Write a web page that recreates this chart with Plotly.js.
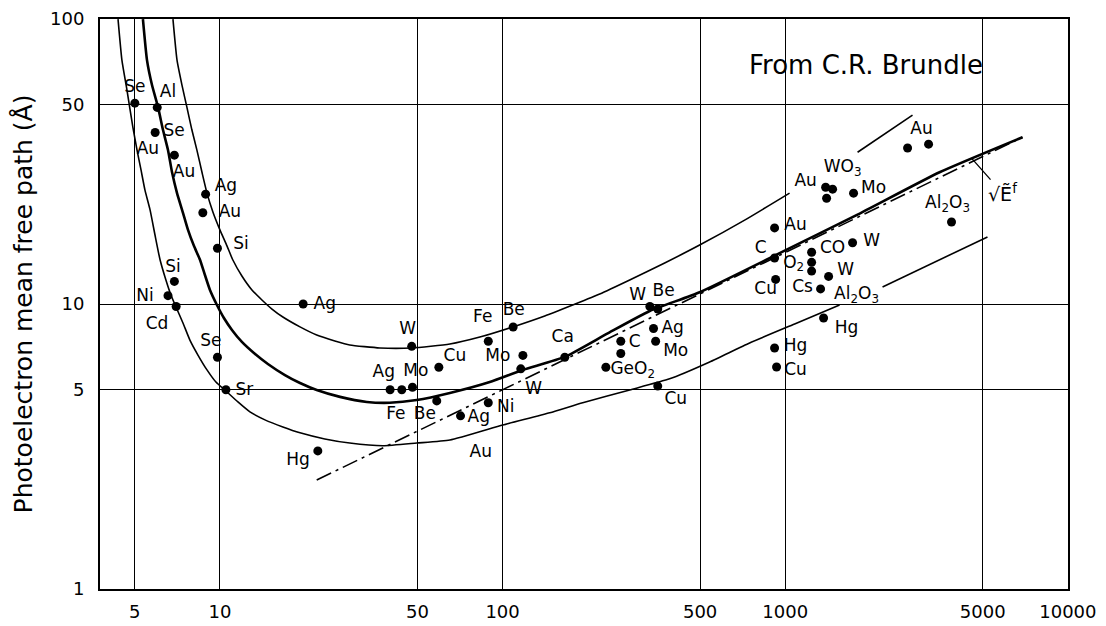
<!DOCTYPE html>
<html>
<head>
<meta charset="utf-8">
<script src="https://cdn.plot.ly/plotly-3.0.1.min.js"></script>
<style>html,body{margin:0;padding:0;background:#fff;}#chart{width:1106px;height:626px;}</style>
</head>
<body>
<div id="chart"></div>
<script>
// Axis ticks
const xTicks = [5, 10, 50, 100, 500, 1000, 5000, 10000];
const yTicks = [1, 5, 10, 50, 100];

// Universal curves (energy eV, mean free path Å)
const upperE = [6.82,7.05,7.34,7.64,7.96,8.29,8.64,9.0,9.45,10.0,10.59,11.1,11.96,12.98,14.08,15.28,16.7,19.2,22.0,25.5,28.8,36.8,47.7,65.1,83.1,108.7,141,177,220.7,281.7,374.6,498,718.6,1036,null,1803,2821];
const upperL = [100,71.8,58.7,49.1,40.8,34.7,29.0,24.5,21.0,18.2,16.0,14.3,12.54,11.2,10.33,9.6,9.0,8.31,7.78,7.42,7.18,7.01,7.01,7.24,7.66,8.31,9.08,9.92,10.84,12.14,13.93,16.1,19.7,24.5,null,34.1,46.0];

const middleE = [5.34,5.52,5.75,6.04,6.29,6.55,6.77,7.05,7.4,7.71,8.09,8.5,8.85,9.22,9.76,10.33,11.03,11.96,13.19,14.78,16.98,19.2,22.0,26.6,33.1,39.9,49.7,65.1,90.1,117.9,166,233.6,331.6,498,932,1788,3516,6911];
const middleL = [100,71.8,58.7,49.1,40.8,34.7,29.0,24.5,20.9,18.2,16.0,14.3,12.64,11.2,9.92,8.93,8.11,7.36,6.73,6.16,5.63,5.28,4.99,4.72,4.53,4.5,4.6,4.87,5.32,5.87,6.52,7.85,9.45,11.0,14.9,20.5,29.0,38.5];

const lowerE = [4.36,4.5,4.69,4.92,5.09,5.26,5.43,5.66,5.89,6.14,6.44,6.71,6.99,7.4,7.83,8.36,9.0,9.68,10.5,11.58,12.77,14.43,16.7,19.2,23.5,28.8,37.7,49.7,65.1,100.2,146.9,192.1,281.7,390,540.3,748.4,1080,1557,null,2210,5195];
const lowerL = [100,71.8,56.3,41.8,34.7,29.5,25.1,21.4,17.5,14.3,12.14,10.75,9.76,8.58,7.47,6.62,5.87,5.32,4.95,4.53,4.18,3.92,3.7,3.53,3.36,3.25,3.18,3.25,3.33,3.76,4.15,4.5,4.99,5.46,6.26,7.3,8.51,9.92,null,11.47,17.2];

// sqrt(E) reference line
const sqrtE = [22.0, 6911];
const sqrtL = [2.41, 38.5];

// Measured points
const ptE = [5,6,5.9,6.9,8.9,8.7,9.8,6.9,6.55,7,19.7,9.8,10.5,22.2,47.7,89,109,118,116,59.5,40,44,48,58.5,71,89,166,262,262,232,332,354,342,348,354,2710,3215,1390,1471,1401,1745,3876,917,917,1240,1240,1240,1731,1424,925,1334,1367,917,932];
const ptL = [50.7,49,40,33.3,24.3,20.9,15.7,12,10.7,9.8,10,6.5,5.0,3.05,7.1,7.4,8.3,6.6,5.92,6.0,5.0,5.0,5.1,4.57,4.05,4.5,6.5,7.4,6.7,6.0,9.8,9.6,8.2,7.4,5.15,35.3,36.4,25.7,25.3,23.5,24.5,19.4,18.5,14.5,15.2,14.0,13.05,16.4,12.5,12.2,11.3,8.93,7.01,6.01];

// Point labels
const lblText = ["Se","Al","Se","Au","Au","Ag","Au","Si","Si","Ni","Cd","Ag","Se","Sr","Hg","W","Fe","Be","Mo","Cu","Ag","Mo","Fe","Be","Ag","Ni","Au","W","Ca","C","GeO<sub>2</sub>","W","Be","Ag","Mo","Cu","Au","WO<sub>3</sub>","Au","Mo","Al<sub>2</sub>O<sub>3</sub>","Au","C","CO","O<sub>2</sub>","W","W","Cu","Cs","Al<sub>2</sub>O<sub>3</sub>","Hg","Hg","Cu"];
const lblE = [5.0,6.55,6.88,5.56,7.46,10.5,10.85,11.87,6.82,5.43,5.99,23.5,9.29,12.2,18.9,46.2,85.1,109.5,96.2,67.8,38.0,49.3,41.9,53.1,82.4,102.6,83.7,128.9,163.3,293.5,288.7,300.6,371.5,399.9,409.8,409.8,3036,1596,1181,2054,3752,1088,818.5,1471,1071,2021,1636,852.5,1152,1788,1649,1088,1088];
const lblL = [57.3,55.0,40.1,34.7,28.8,25.7,20.9,16.1,13.4,10.6,8.44,9.92,7.36,4.95,2.81,8.11,8.93,9.45,6.52,6.52,5.73,5.77,4.08,4.08,3.98,4.32,3.0,4.99,7.6,7.3,5.87,10.67,11.0,8.17,6.78,4.6,40.8,30.0,26.8,25.3,22.4,18.8,15.6,15.6,13.9,16.5,13.05,11.2,11.4,10.75,8.17,7.07,5.82];

const FONT = "DejaVu Sans, sans-serif";

const traces = [
  {x: upperE, y: upperL, mode: 'lines', line: {color: '#000', width: 1.6, shape: 'spline', smoothing: 0.5}, connectgaps: false, hoverinfo: 'skip'},
  {x: middleE, y: middleL, mode: 'lines', line: {color: '#000', width: 2.6, shape: 'spline', smoothing: 0.5}, hoverinfo: 'skip'},
  {x: lowerE, y: lowerL, mode: 'lines', line: {color: '#000', width: 1.6, shape: 'spline', smoothing: 0.5}, connectgaps: false, hoverinfo: 'skip'},
  {x: sqrtE, y: sqrtL, mode: 'lines', line: {color: '#000', width: 1.6, dash: '16px,5px,3px,5px'}, hoverinfo: 'skip'},
  {x: ptE, y: ptL, mode: 'markers', marker: {color: '#000', size: 9}, hoverinfo: 'skip'},
  {x: lblE, y: lblL, mode: 'text', text: lblText, textposition: 'middle center', textfont: {family: FONT, size: 17, color: '#000'}, hoverinfo: 'skip', cliponaxis: false}
];

const layout = {
  width: 1106, height: 626,
  margin: {l: 100, r: 38, t: 19, b: 37},
  paper_bgcolor: '#fff', plot_bgcolor: '#fff',
  showlegend: false,
  font: {family: FONT, color: '#000', size: 18},
  xaxis: {
    type: 'log', range: [0.5757, 4.0005],
    tickvals: xTicks, ticktext: xTicks.map(String),
    showgrid: true, gridcolor: '#000', gridwidth: 1,
    showline: true, linecolor: '#000', linewidth: 2, mirror: true,
    ticks: '', zeroline: false, tickfont: {size: 18},
    ticklabelstandoff: 5
  },
  yaxis: {
    type: 'log', range: [-0.0005, 2.0005],
    tickvals: yTicks, ticktext: yTicks.map(String),
    showgrid: true, gridcolor: '#000', gridwidth: 1,
    showline: true, linecolor: '#000', linewidth: 2, mirror: true,
    ticks: '', zeroline: false, tickfont: {size: 18},
    ticklabelstandoff: 10,
    title: {text: 'Photoelectron mean free path (Å)', font: {size: 25}, standoff: 10}
  },
  annotations: [
    {x: Math.log10(1924), y: Math.log10(69), xref: 'x', yref: 'y', text: 'From C.R. Brundle', showarrow: false, font: {size: 26}},
    {x: Math.log10(4561), y: Math.log10(32.5), xref: 'x', yref: 'y', text: '√Ẽ<sup>f</sup>', showarrow: true, arrowhead: 0, arrowwidth: 1.3, arrowcolor: '#000', ax: 31, ay: 35, font: {size: 19}}
  ]
};

Plotly.newPlot('chart', traces, layout, {staticPlot: true, displayModeBar: false});
</script>
</body>
</html>
